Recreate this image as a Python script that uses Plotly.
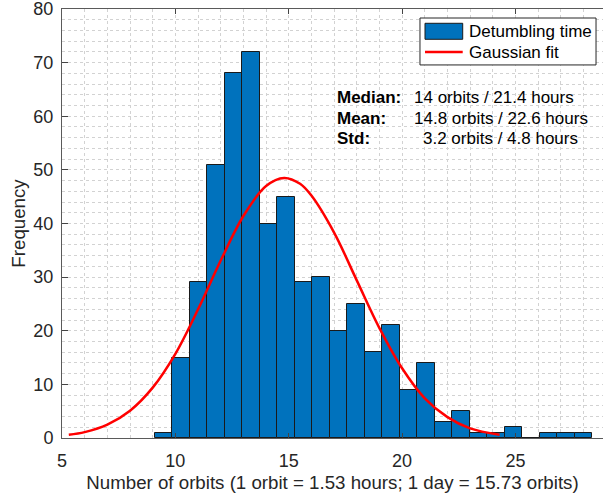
import numpy as np
import plotly.graph_objects as go

# ---- data ----
bin_start = 9.08          # left edge of first bin (orbits)
bin_width = 0.7724        # bin width (orbits)
counts = [1, 15, 29, 51, 68, 72, 40, 45, 29, 30, 20, 25, 16, 21, 9, 14,
          3, 5, 1, 1, 2, 0, 1, 1, 1]

fit_x = [5.3, 6, 7, 8, 9, 10, 11, 12, 13, 14, 14.8, 15.5, 16, 17, 18, 19,
         20, 21, 22, 23, 24.3]
fit_y = [0.6, 1.1, 2.5, 5.1, 9.4, 15.7, 24.0, 33.1, 41.4, 47.0, 48.5, 47.4,
         45.2, 38.3, 29.4, 20.5, 13.0, 7.4, 3.9, 1.8, 0.6]

x_ticks = [5, 10, 15, 20, 25]
y_ticks = [0, 10, 20, 30, 40, 50, 60, 70, 80]

legend_labels = ["Detumbling time", "Gaussian fit"]
stat_labels = ["Median:", "Mean:", "Std:"]
stat_values = ["14 orbits / 21.4 hours", "14.8 orbits / 22.6 hours",
               "3.2 orbits / 4.8 hours"]

x_title = "Number of orbits (1 orbit = 1.53 hours; 1 day = 15.73 orbits)"
y_title = "Frequency"

# ---- figure ----
FONT = "Liberation Sans, Arial, Helvetica, sans-serif"
TXT = "#262626"
BLUE = "#0072BD"

centers = bin_start + bin_width * (np.arange(len(counts)) + 0.5)

fig = go.Figure()
fig.add_trace(go.Bar(
    x=centers, y=counts, width=bin_width,
    marker=dict(color=BLUE, line=dict(color="#1a1a1a", width=1)),
    name=legend_labels[0], showlegend=False,
))
fig.add_trace(go.Scatter(
    x=fit_x, y=fit_y, mode="lines", line=dict(color="#FF0000", width=2.5, shape="spline"),
    name=legend_labels[1], showlegend=False,
))

grid = "#d2d2d2"
fig.update_xaxes(
    range=[5, 28.86], tickvals=x_ticks, ticks="inside", ticklen=5, tickcolor="#444",
    showline=True, linecolor="#5a5a5a", linewidth=1, mirror="ticks",
    showgrid=True, gridcolor=grid, griddash="dot", gridwidth=1,
    minor=dict(dtick=1, showgrid=True, gridcolor=grid, griddash="dot", gridwidth=1),
    zeroline=False, tickfont=dict(family=FONT, size=18, color=TXT),
    ticklabelstandoff=6, automargin=False, ticklabeloverflow="allow",
    title=dict(text=x_title, font=dict(family=FONT, size=18.7, color=TXT), standoff=6),
)
fig.update_yaxes(
    range=[0, 80], tickvals=y_ticks, ticks="inside", ticklen=6, tickcolor="#444",
    showline=True, linecolor="#5a5a5a", linewidth=1,
    showgrid=True, gridcolor=grid, griddash="dot", gridwidth=1,
    minor=dict(dtick=2, showgrid=True, gridcolor=grid, griddash="dot", gridwidth=1),
    zeroline=False, tickfont=dict(family=FONT, size=18, color=TXT),
    ticklabelstandoff=4, automargin=False, ticklabeloverflow="allow",
    title=dict(text=y_title, font=dict(family=FONT, size=18.7, color=TXT), standoff=2),
)

# manual legend (paper coordinates)
fig.add_shape(type="rect", xref="paper", yref="paper", x0=0.6617, x1=0.9871,
              y0=0.8696, y1=0.979, line=dict(color="#262626", width=1),
              fillcolor="white", layer="above")
fig.add_shape(type="rect", xref="paper", yref="paper", x0=0.671, x1=0.7407,
              y0=0.9294, y1=0.9667, line=dict(color="#1a1a1a", width=1),
              fillcolor=BLUE, layer="above")
fig.add_shape(type="line", xref="paper", yref="paper", x0=0.671, x1=0.7407,
              y0=0.8998, y1=0.8998, line=dict(color="#FF0000", width=2.5),
              layer="above")
for lab, yy in zip(legend_labels, [0.9471, 0.8990]):
    fig.add_annotation(xref="paper", yref="paper", x=0.748, y=yy, text=lab,
                       showarrow=False, xanchor="left", yanchor="middle",
                       font=dict(family=FONT, size=17, color="black"))

rows_y = [0.7935, 0.7458, 0.6983]
val_x = [0.6464, 0.6464, 0.6636]
for lab, val, yy, vx in zip(stat_labels, stat_values, rows_y, val_x):
    fig.add_annotation(xref="paper", yref="paper", x=0.5046, y=yy, text=f"<b>{lab}</b>",
                       showarrow=False, xanchor="left", yanchor="middle",
                       font=dict(family=FONT, size=17, color="black"))
    fig.add_annotation(xref="paper", yref="paper", x=vx, y=yy, text=val,
                       showarrow=False, xanchor="left", yanchor="middle",
                       font=dict(family=FONT, size=17, color="black"))

fig.update_layout(
    width=603, height=497,
    margin=dict(l=62, r=0, t=9, b=59),
    paper_bgcolor="white", plot_bgcolor="white",
    bargap=0, showlegend=False,
)

fig.write_html("out.html", config={"displayModeBar": False},
               post_script="document.body.style.margin='0';")
